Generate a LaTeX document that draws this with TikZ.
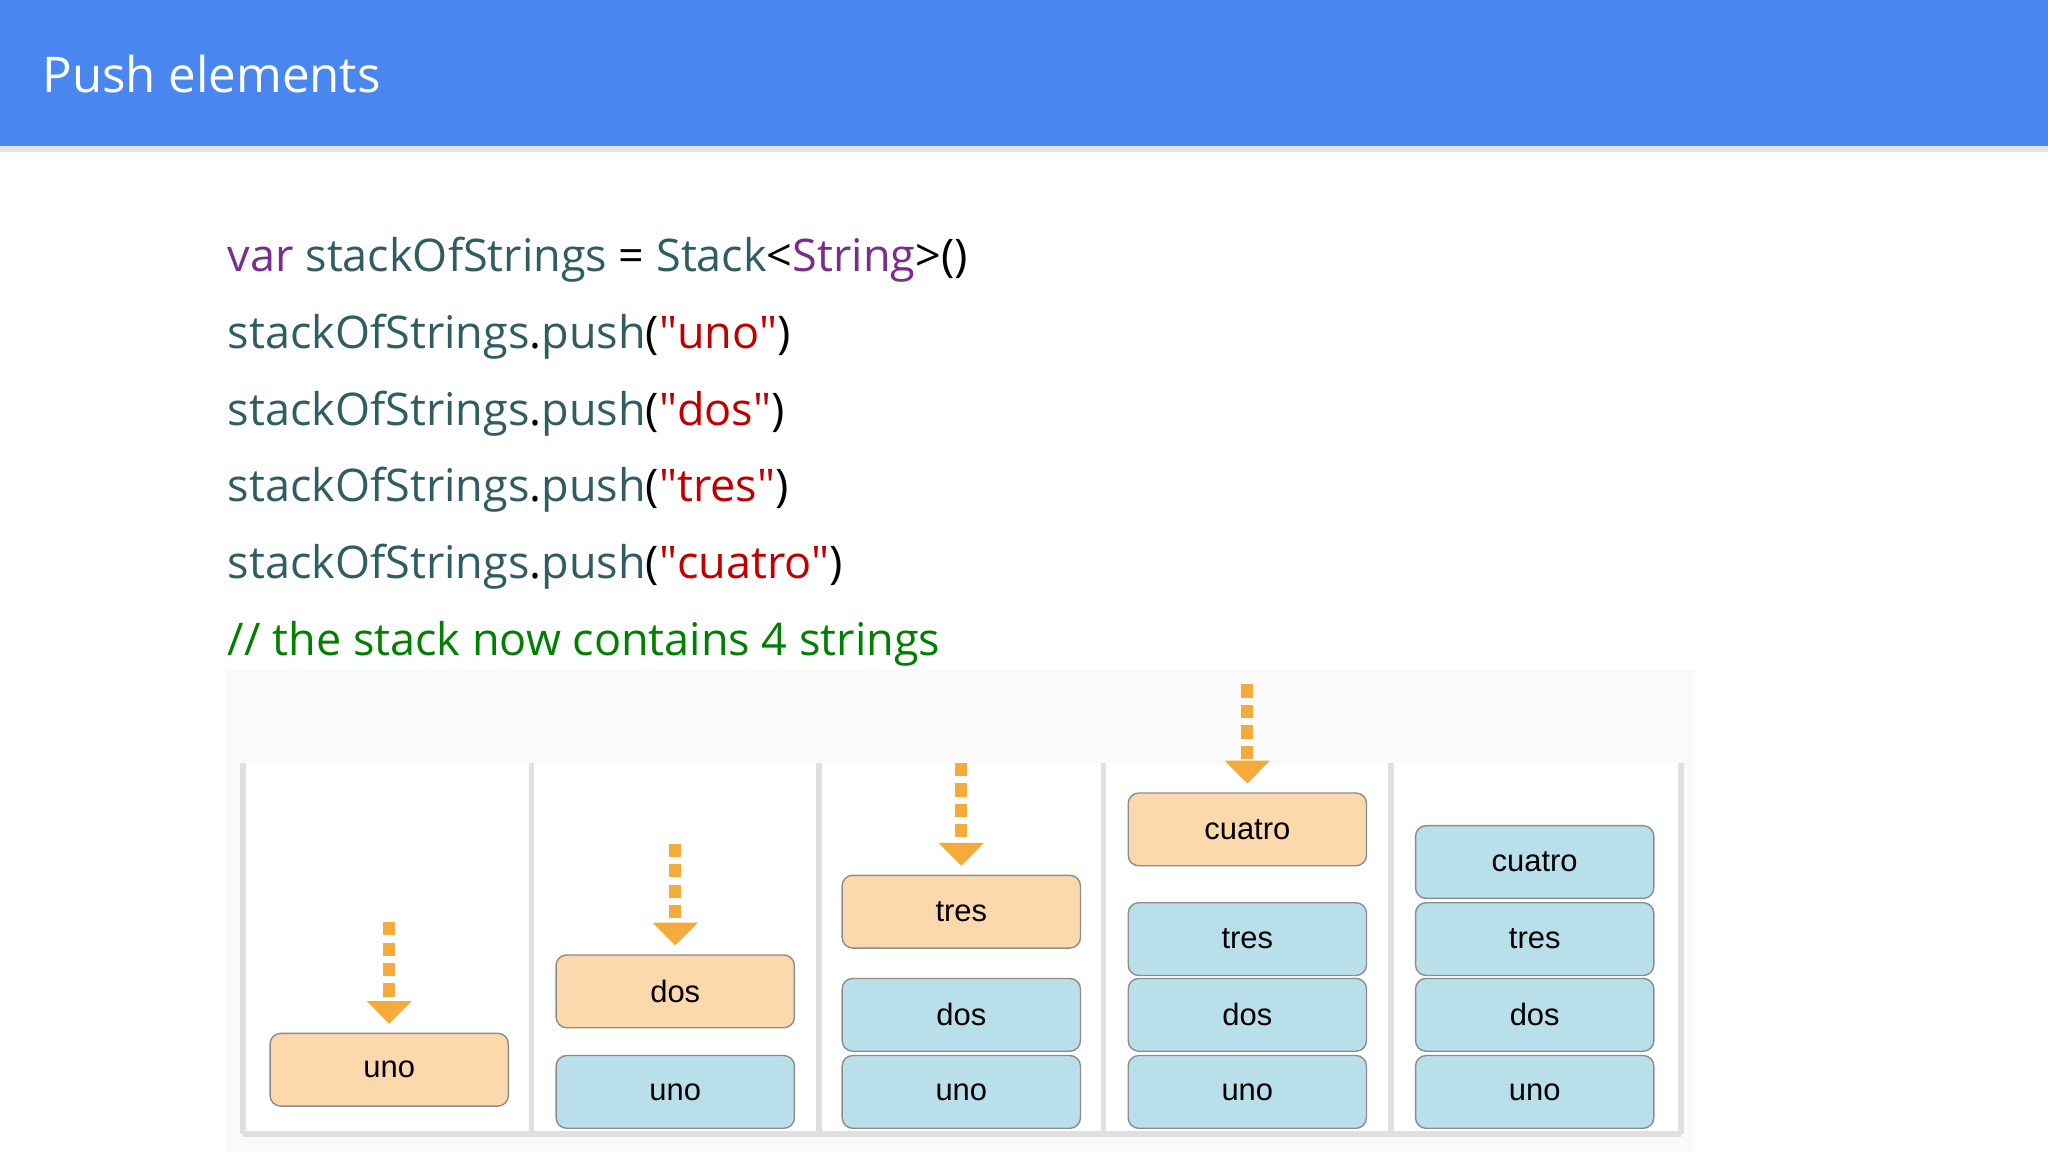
\documentclass[tikz,border=0pt]{standalone}
\usepackage{fontspec}
\setmainfont{Open Sans}
\newfontfamily\boxfont{Liberation Sans}
\usetikzlibrary{arrows.meta}
\definecolor{headblue}{HTML}{4A86F0}
\definecolor{kwpurple}{HTML}{7B2D8B}
\definecolor{idteal}{HTML}{2F5D62}
\definecolor{strred}{HTML}{C00000}
\definecolor{cmtgreen}{HTML}{008000}
\definecolor{newfill}{HTML}{FCD9AD}
\definecolor{oldfill}{HTML}{B9E0EA}
\definecolor{arrorange}{HTML}{F4AB3C}
\newcommand{\qt}{\textquotedbl}
\tikzset{ cell/.style = { rectangle
                        , rounded corners = 3pt
                        , draw = black!45
                        , minimum width  = 67.8pt
                        , minimum height = 20.7pt
                        , font = \boxfont\fontsize{8.8}{11}\selectfont
                        },
          new/.style = { cell, fill = newfill },
          old/.style = { cell, fill = oldfill },
          code/.style = { anchor = west, inner sep = 0pt
                        , font = \fontsize{12.8}{15}\selectfont
                        },
          push/.style = { draw = arrorange
                        , line width = 3.4pt
                        , dash pattern = on 3.8pt off 2pt
                        , -{Triangle[width=12.5pt,length=6.5pt]}
                        , shorten > = 2.5pt
                        },
          wall/.style = { draw = black!12, line width = 1.6pt }
        }
\begin{document}
\begin{tikzpicture}[x=0.013061cm, y=-0.013061cm]
  \useasboundingbox (0,0) rectangle (1568,882);
  % header bar
  \fill[headblue] (0,0) rectangle (1568,112);
  \fill[black!10] (0,112) rectangle (1568,116);
  \node[anchor=west, inner sep=0pt, text=white, font=\fontsize{14}{17}\selectfont] (title) at (32,57) {Push elements};
  % code
  \node[code] (l1) at (174,199) {\textcolor{kwpurple}{var} \textcolor{idteal}{stackOfStrings} = \textcolor{idteal}{Stack}<\textcolor{kwpurple}{String}>()};
  \foreach \y/\s in {258/uno, 317/dos, 375/tres, 434/cuatro} {
    \node[code] (l\s) at (174,\y) {\textcolor{idteal}{stackOfStrings}.\textcolor{idteal}{push}(\textcolor{strred}{\qt\s\qt})};
  }
  \node[code, text=cmtgreen] (cmt) at (174,493) {// the stack now contains 4 strings};
  % panel
  \fill[black!2] (173,513) rectangle (1298,882);
  \fill[white] (186,584) rectangle (1287,868);
  \foreach \x in {186,407,627,845,1065,1287} {
    \draw[wall] (\x,584) -- (\x,868);
  }
  \draw[wall] (186,868) -- (1287,868);
  % stacks
  \node[new] (a1) at (298,819) {uno};
  \node[new] (b2) at (517,759) {dos};
  \node[old] (b1) at (517,836) {uno};
  \node[new] (c3) at (736,698) {tres};
  \node[old] (c2) at (736,777) {dos};
  \node[old] (c1) at (736,836) {uno};
  \node[new] (d4) at (955,635) {cuatro};
  \node[old] (d3) at (955,719) {tres};
  \node[old] (d2) at (955,777) {dos};
  \node[old] (d1) at (955,836) {uno};
  \node[old] (e4) at (1175,660) {cuatro};
  \node[old] (e3) at (1175,719) {tres};
  \node[old] (e2) at (1175,777) {dos};
  \node[old] (e1) at (1175,836) {uno};
  % push arrows
  \foreach \n/\x/\y in {a1/298/706, b2/517/646, c3/736/584, d4/955/524} {
    \coordinate (top\n) at (\x,\y);
    \draw[push] (top\n) -- (\n.north);
  }
\end{tikzpicture}
\end{document}
